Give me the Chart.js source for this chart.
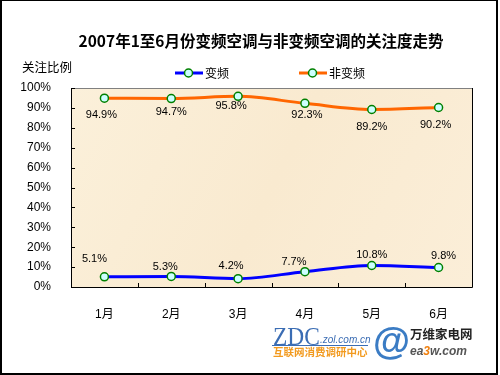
<!DOCTYPE html>
<html><head><meta charset="utf-8">
<script src="https://cdn.jsdelivr.net/npm/chart.js@4.4.1/dist/chart.umd.min.js"></script>
<style>html,body{margin:0;padding:0;background:#fff;overflow:hidden}#wrap{width:500px;height:375px;position:relative}</style>
</head><body><div id="wrap"><canvas id="c" width="500" height="375"></canvas></div>
<script>
const months = ['1月','2月','3月','4月','5月','6月'];
const inverter = [5.1, 5.3, 4.2, 7.7, 10.8, 9.8];
const nonInverter = [94.9, 94.7, 95.8, 92.3, 89.2, 90.2];
const seriesNames = ['变频', '非变频'];
const titleText = '2007年1至6月份变频空调与非变频空调的关注度走势';
const yAxisTitle = '关注比例';

const CJK = '"Noto Sans CJK SC", sans-serif';
const LAT = '"Liberation Sans", "Noto Sans CJK SC", sans-serif';

const decor = {
  id: 'decor',
  beforeDraw(chart) {
    const ctx = chart.ctx, a = chart.chartArea;
    ctx.save();
    ctx.fillStyle = '#fff';
    ctx.fillRect(0, 0, chart.width, chart.height);
    const g = ctx.createLinearGradient(a.left, a.top, a.right, a.bottom);
    g.addColorStop(0, '#FBF0DA');
    g.addColorStop(0.5, '#F9EAD0');
    g.addColorStop(1, '#FBEED8');
    ctx.fillStyle = g;
    ctx.fillRect(a.left, a.top, a.right - a.left, a.bottom - a.top);
    ctx.lineWidth = 1;
    ctx.strokeStyle = '#808080';
    ctx.beginPath(); ctx.moveTo(a.left, a.top + 0.5); ctx.lineTo(a.right, a.top + 0.5); ctx.stroke();
    ctx.strokeStyle = '#000';
    ctx.beginPath();
    ctx.moveTo(a.left + 0.5, a.top); ctx.lineTo(a.left + 0.5, a.bottom + 0.5);
    ctx.lineTo(a.right + 0.5, a.bottom + 0.5); ctx.lineTo(a.right + 0.5, a.top);
    ctx.stroke();
    const ys = chart.scales.y, xs = chart.scales.x;
    ctx.beginPath();
    ys.ticks.forEach(t => { const y = Math.round(ys.getPixelForValue(t.value)) + 0.5; ctx.moveTo(a.left, y); ctx.lineTo(a.left + 4, y); });
    const half = (xs.getPixelForValue(1) - xs.getPixelForValue(0)) / 2;
    for (let i = 0; i < months.length - 1; i++) {
      const x = Math.round(xs.getPixelForValue(i) + half) + 0.5;
      ctx.moveTo(x, a.bottom); ctx.lineTo(x, a.bottom - 4);
    }
    ctx.stroke();
    ctx.fillStyle = '#000';
    ctx.textAlign = 'center'; ctx.textBaseline = 'middle';
    ctx.font = 'bold 15.5px ' + CJK;
    ctx.fillText(titleText, 261, 41);
    ctx.font = '12.5px ' + CJK;
    ctx.textAlign = 'left';
    ctx.fillText(yAxisTitle, 22, 67);
    const legendX = [175, 299];
    chart.data.datasets.forEach((ds, i) => {
      const x0 = legendX[i], y = 73;
      ctx.strokeStyle = ds.borderColor; ctx.lineWidth = 3;
      ctx.beginPath(); ctx.moveTo(x0, y); ctx.lineTo(x0 + 28, y); ctx.stroke();
      ctx.beginPath(); ctx.arc(x0 + 13.5, y, 4, 0, Math.PI * 2);
      ctx.fillStyle = ds.pointBackgroundColor; ctx.fill();
      ctx.lineWidth = 1.5; ctx.strokeStyle = ds.pointBorderColor; ctx.stroke();
      ctx.fillStyle = '#000'; ctx.font = '12px ' + CJK; ctx.textAlign = 'left';
      ctx.fillText(ds.label, x0 + 30, y);
    });
    ctx.fillStyle = '#000';
    ctx.fillRect(0, 0, 2, 375);
    ctx.fillRect(496, 0, 2, 375);
    ctx.fillRect(0, 0, 498, 1);
    ctx.fillRect(0, 373, 498, 2);
    ctx.textBaseline = 'alphabetic';
    ctx.fillStyle = '#3B6DB4';
    ctx.font = '26px "Liberation Serif", serif';
    ctx.save(); ctx.translate(273, 345); ctx.scale(0.9, 1); ctx.fillText('ZDC', 0, 0); ctx.restore();
    ctx.font = 'italic 10px "Liberation Sans", sans-serif';
    ctx.fillText('.zol.com.cn', 320, 343);
    ctx.fillRect(272, 345, 96, 1);
    ctx.fillStyle = '#F29A1F';
    ctx.font = 'bold 10.5px ' + CJK;
    ctx.fillText('互联网消费调研中心', 273, 356);
    ctx.fillStyle = '#3B7CC4';
    ctx.font = 'bold 38px "Liberation Sans", sans-serif';
    ctx.fillText('@', 373, 354);
    ctx.fillStyle = '#222';
    ctx.font = 'bold 12.5px ' + CJK;
    ctx.fillText('万维家电网', 410, 339);
    ctx.font = 'bold italic 12px "Liberation Sans", sans-serif';
    ctx.fillStyle = '#555';
    ctx.fillText('ea', 410, 355);
    let w = ctx.measureText('ea').width;
    ctx.fillStyle = '#F08010'; ctx.fillText('3', 410 + w, 355);
    w += ctx.measureText('3').width;
    ctx.fillStyle = '#555'; ctx.fillText('w.com', 410 + w, 355);
    ctx.restore();
  },
  afterDatasetsDraw(chart, args, opts) {
    const ctx = chart.ctx;
    ctx.save();
    ctx.fillStyle = '#000';
    ctx.font = '11px ' + LAT;
    ctx.textAlign = 'center'; ctx.textBaseline = 'middle';
    chart.data.datasets.forEach((ds, di) => {
      const meta = chart.getDatasetMeta(di);
      meta.data.forEach((pt, i) => {
        const sh = opts.shifts[di][i];
        ctx.fillText(ds.data[i].toFixed(1) + '%', pt.x + sh[0], pt.y + sh[1]);
      });
    });
    ctx.restore();
  }
};

new Chart(document.getElementById('c'), {
  type: 'line',
  data: {
    labels: months,
    datasets: [
      { label: seriesNames[0], data: inverter, borderColor: '#0000FF', borderWidth: 3,
        pointBackgroundColor: '#CCFFFF', pointBorderColor: '#008000', pointBorderWidth: 1.5,
        pointRadius: 4, tension: 0.35, cubicInterpolationMode: 'monotone' },
      { label: seriesNames[1], data: nonInverter, borderColor: '#FF6600', borderWidth: 3,
        pointBackgroundColor: '#CCFFFF', pointBorderColor: '#008000', pointBorderWidth: 1.5,
        pointRadius: 4, tension: 0.35, cubicInterpolationMode: 'monotone' }
    ]
  },
  options: {
    responsive: false, animation: false, devicePixelRatio: 1,
    layout: { padding: { top: 88, right: 28, left: 0, bottom: 0 } },
    plugins: {
      legend: { display: false }, title: { display: false }, tooltip: { enabled: false },
      decor: { shifts: [
        [[-10,-18],[-6,-9],[-7,-13],[-11,-10],[0,-11],[5,-12]],
        [[-3,17],[0,13],[-7,10],[2,12],[0,17],[-3,17]]
      ] }
    },
    scales: {
      x: { offset: true, grid: { display: false }, border: { display: false },
           ticks: { color: '#000', font: { size: 12, family: LAT }, padding: 12, maxRotation: 0 },
           afterFit: s => { s.height = 88; } },
      y: { min: 0, max: 100, grid: { display: false }, border: { display: false },
           ticks: { stepSize: 10, color: '#000', font: { size: 12, family: LAT }, padding: 12,
                    callback: v => v + '%' },
           afterFit: s => { s.width = 71; } }
    }
  },
  plugins: [decor]
});
</script></body></html>
